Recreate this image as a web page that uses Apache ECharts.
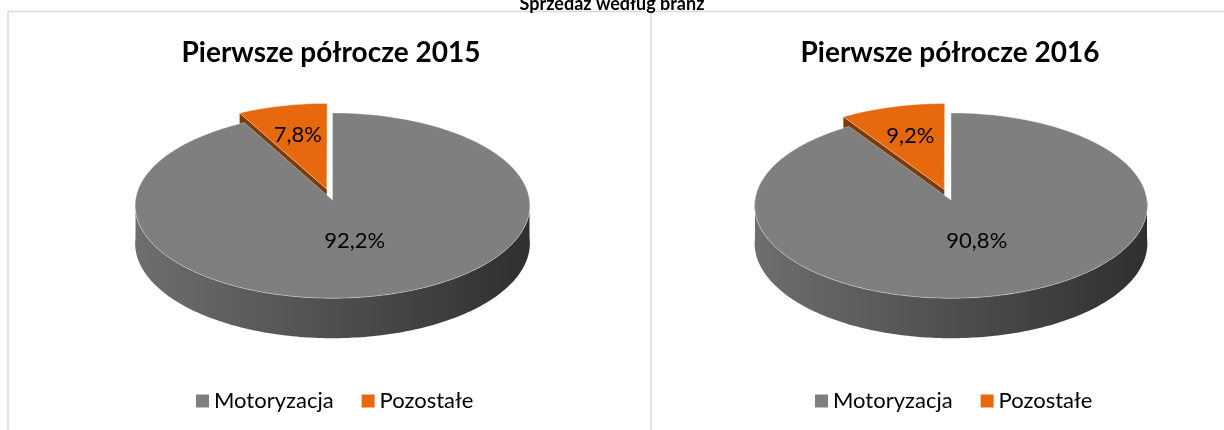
<!DOCTYPE html>
<html><head><meta charset="utf-8">
<script src="https://cdn.jsdelivr.net/npm/echarts@6/dist/echarts.min.js"></script>
<style>html,body{margin:0;padding:0;background:#fff}#c{width:1224px;height:430px}</style>
</head><body><div id="c"></div>
<script>
// ---- data ----
const mainTitle = 'Sprzedaż według branż';
const pieTitles = ['Pierwsze półrocze 2015', 'Pierwsze półrocze 2016'];
const categories = ['Motoryzacja', 'Pozostałe'];
const values2015 = [92.2, 7.8];
const values2016 = [90.8, 9.2];

// ---- layout / style ----
const DATA = [values2015, values2016];
const LAYOUT = [
  {cx: 332.5, cy: 200, A: 197, B: 92.3, D: 37.6, titleX: 331},
  {cx: 951, cy: 200, A: 196, B: 92.3, D: 37.6, titleX: 950}
];
const LEGEND_X = [196, 815];
const K = 0.06;               // perspective
const EXPLODE = [0, 0.12];
const TOP_COLORS = ['#7f7f7f', '#e8680e'];
const FACE_COLORS = ['#4a4a4a', '#7a3a0c'];
const SIDE_STOPS = [
  [{offset: 0, color: '#6e6e6e'}, {offset: 0.5, color: '#4f4f4f'}, {offset: 1, color: '#2f2f2f'}],
  [{offset: 0, color: '#b85208'}, {offset: 1, color: '#7a3a0c'}]
];
const LABEL_R = [0.45, 0.64];
const FONT = 'Lato, "Open Sans", sans-serif';

function proj(P, u, v, h) {
  const s = 1 / (1 + K * v);
  return [P.cx + P.A * u * s, P.cy - P.B * v * s + P.D * h * s];
}
function fmt(v) { return v.toFixed(1).replace('.', ',') + '%'; }

function makeRender(pi, ci) {
  return function (params, api) {
    const P = LAYOUT[pi];
    const vals = DATA[pi];
    const total = vals.reduce((a, b) => a + b, 0);
    let cum = 0;
    for (let i = 0; i < ci; i++) cum += vals[i];
    const val = api.value(0);
    const a0 = 2 * Math.PI * cum / total;
    const a1 = a0 + 2 * Math.PI * val / total;
    const mid = (a0 + a1) / 2;
    const ex = EXPLODE[ci];
    const ou = ex * Math.sin(mid), ov = ex * Math.cos(mid);
    const pt = (th, r, h) => proj(P, ou + r * Math.sin(th), ov + r * Math.cos(th), h);
    const step = Math.PI / 180;
    const children = [];
    // outer side (front half only)
    const lo = Math.max(a0, Math.PI / 2), hi = Math.min(a1, 1.5 * Math.PI);
    if (hi > lo) {
      const n = Math.ceil((hi - lo) / step);
      const pts = [];
      for (let i = 0; i <= n; i++) pts.push(pt(lo + (hi - lo) * i / n, 1, 0));
      for (let i = n; i >= 0; i--) pts.push(pt(lo + (hi - lo) * i / n, 1, 1));
      children.push({
        type: 'polygon', shape: {points: pts},
        style: {fill: {type: 'linear', x: P.cx - P.A, y: 0, x2: P.cx + P.A, y2: 0, global: true, colorStops: SIDE_STOPS[ci]}}
      });
    }
    // radial faces
    const face = (th) => ({
      type: 'polygon',
      shape: {points: [pt(th, 0, 0), pt(th, 1, 0), pt(th, 1, 1), pt(th, 0, 1)]},
      style: {fill: FACE_COLORS[ci]}
    });
    if (Math.sin(a0) < -1e-6) children.push(face(a0));
    if (Math.sin(a1) > 1e-6) children.push(face(a1));
    // top face
    const n = Math.max(2, Math.ceil((a1 - a0) / step));
    const tp = [pt(0, 0, 0)];
    for (let i = 0; i <= n; i++) tp.push(pt(a0 + (a1 - a0) * i / n, 1, 0));
    children.push({
      type: 'polygon', shape: {points: tp},
      style: {fill: TOP_COLORS[ci], stroke: 'rgba(255,255,255,0.35)', lineWidth: 1}
    });
    // label
    const lp = pt(mid, LABEL_R[ci], 0);
    children.push({
      type: 'text', x: lp[0], y: lp[1],
      style: {text: fmt(val), fill: '#000', font: '22px ' + FONT, align: 'center', verticalAlign: 'middle'}
    });
    return {type: 'group', children: children};
  };
}

const series = [];
DATA.forEach((vals, pi) => {
  // draw small slices first (behind), big slice after
  [1, 0].forEach(ci => {
    series.push({
      type: 'custom', name: categories[ci], coordinateSystem: 'none',
      data: [[vals[ci]]], renderItem: makeRender(pi, ci),
      itemStyle: {color: TOP_COLORS[ci]}, z: ci === 0 ? 3 : 2, silent: true
    });
  });
});

const titleStyle = {fontFamily: FONT, fontWeight: 'bold', color: '#000'};
const option = {
  animation: false,
  title: [
    {text: mainTitle, left: 612, textAlign: 'center', top: -5, padding: 0, textStyle: Object.assign({fontSize: 18}, titleStyle)},
    {text: pieTitles[0], left: LAYOUT[0].titleX, textAlign: 'center', top: 39, padding: 0, textStyle: Object.assign({fontSize: 28}, titleStyle)},
    {text: pieTitles[1], left: LAYOUT[1].titleX, textAlign: 'center', top: 39, padding: 0, textStyle: Object.assign({fontSize: 28}, titleStyle)}
  ],
  legend: LEGEND_X.map(x => ({
    data: categories, left: x, top: 390, padding: 0, selectedMode: false,
    icon: 'rect', itemWidth: 13, itemHeight: 13, itemGap: 28,
    textStyle: {fontFamily: FONT, fontSize: 22, color: '#000'}
  })),
  graphic: [
    {type: 'polyline', silent: true, shape: {points: [[8, 431], [8, 11.5], [642, 11.5]]}, style: {stroke: '#d9d9d9', lineWidth: 1.5, fill: null}},
    {type: 'polyline', silent: true, shape: {points: [[651, 431], [651, 11.5], [1224, 11.5]]}, style: {stroke: '#d9d9d9', lineWidth: 1.5, fill: null}}
  ],
  series: series
};
const chart = echarts.init(document.getElementById('c'), null, {renderer: 'canvas'});
chart.setOption(option);
</script></body></html>
